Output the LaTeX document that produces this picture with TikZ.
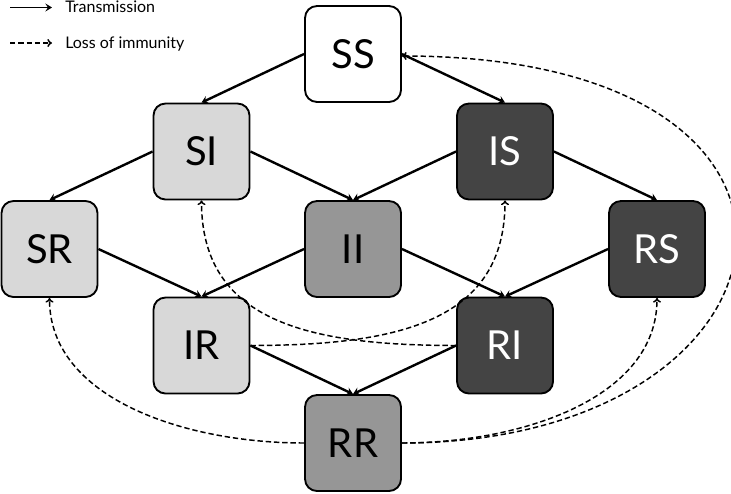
\documentclass[tikz,border=0pt]{standalone}
\usepackage{fontspec}
\setmainfont{Lato}
\usepackage{xcolor}
\usetikzlibrary{arrows.meta}
\definecolor{lightfill}{RGB}{216,216,216}
\definecolor{midfill}{RGB}{150,150,150}
\definecolor{darkfill}{RGB}{68,68,68}

\begin{document}
\begin{tikzpicture}[x=0.75pt,y=0.75pt,yscale=-1,xscale=1,
  box/.style={draw,line width=1.4pt,rounded corners=9pt,minimum width=72pt,minimum height=72pt,inner sep=0pt,font=\fontsize{30}{31}\selectfont},
  lightbox/.style={box,fill=lightfill},
  midbox/.style={box,fill=midfill},
  darkbox/.style={box,fill=darkfill,text=white},
  trans/.style={line width=1.8pt,-{Stealth[length=5pt,width=6pt,inset=2pt]}},
  loss/.style={line width=1.1pt,dash pattern={on 4pt off 2.2pt},-{To[length=3.5pt,width=6pt]}},
  legtext/.style={anchor=base west,inner sep=0pt,font=\fontsize{12}{13}\selectfont}]
\useasboundingbox (0,0) rectangle (731,493);

% Boxes
\node [box] (SS) at (353,54) {SS};
\node [lightbox] (SI) at (201.5,151.5) {SI};
\node [darkbox] (IS) at (505,151.5) {IS};
\node [lightbox] (SR) at (49.5,249) {SR};
\node [midbox] (II) at (353,249) {II};
\node [darkbox] (RS) at (657,249) {RS};
\node [lightbox] (IR) at (201.5,345.5) {IR};
\node [darkbox] (RI) at (505,345.5) {RI};
\node [midbox] (RR) at (353,443) {RR};

% Transmission
\draw [trans] (SS.west) -- (SI.north);
\draw [trans] (SS.east) -- (IS.north);
\draw [trans] (SI.west) -- (SR.north);
\draw [trans] (SI.east) -- (II.north);
\draw [trans] (IS.west) -- (II.north);
\draw [trans] (IS.east) -- (RS.north);
\draw [trans] (SR.east) -- (IR.north);
\draw [trans] (II.west) -- (IR.north);
\draw [trans] (II.east) -- (RI.north);
\draw [trans] (RS.west) -- (RI.north);
\draw [trans] (IR.east) -- (RR.north);
\draw [trans] (RI.west) -- (RR.north);

% Loss of immunity
\draw [loss] (RR.west) .. controls +(-120,0) and +(0,100) .. (SR.south);
\draw [loss] (RR.east) .. controls +(120,0) and +(0,100) .. (RS.south);
\draw [loss] (IR.east) .. controls +(150,0) and +(0,120) .. (IS.south);
\draw [loss] (RI.west) .. controls +(-150,0) and +(0,120) .. (SI.south);
\draw [loss] (RR.east) .. controls +(410,0) and +(480,0) .. ([yshift=1.5pt]SS.east);

% Legend
\coordinate (transA) at (10,7.5);
\coordinate (transB) at (52,7.5);
\coordinate (lossA) at (10,43);
\coordinate (lossB) at (52,43);
\draw [trans,line width=1.3pt] (transA) -- (transB);
\draw [loss] (lossA) -- (lossB);
\node [legtext] (transtext) at (65,12.7) {Transmission};
\node [legtext] (losstext) at (65,48) {Loss of immunity};

\end{tikzpicture}
\end{document}
